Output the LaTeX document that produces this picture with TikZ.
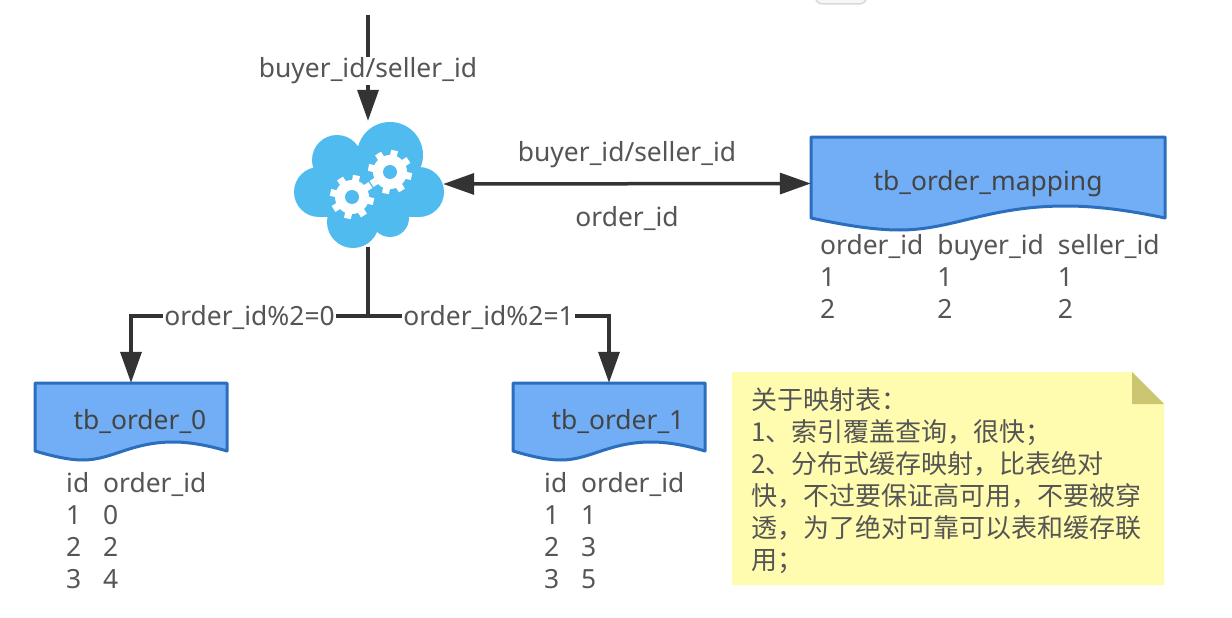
\documentclass[tikz,border=0pt]{standalone}
\usepackage{fontspec}
\setmainfont{Noto Sans}
\newfontfamily\cjk{Noto Sans CJK SC}
\usetikzlibrary{arrows.meta,positioning}
\definecolor{txtgray}{HTML}{555555}
\definecolor{linegray}{HTML}{333333}
\definecolor{cloudblue}{HTML}{50BBEE}
\definecolor{docfill}{HTML}{72AEF6}
\definecolor{docline}{HTML}{2A6EBD}
\definecolor{notefill}{HTML}{FFFCB0}
\definecolor{notefold}{HTML}{CCC673}
\tikzset{
	flowline/.style={draw=linegray,line width=3.5pt},
	flowarrow/.style={flowline,-{Triangle[length=31pt,width=21pt]}},
	flowboth/.style={flowline,{Triangle[length=31pt,width=21pt]}-{Triangle[length=31pt,width=21pt]}},
	flowlabel/.style={text=txtgray,font=\fontsize{26.4}{32}\selectfont,inner sep=1pt},
	cutlabel/.style={flowlabel,fill=white},
	doctext/.style={text=txtgray!80!black,font=\fontsize{26.4}{32}\selectfont,inner sep=0pt},
	tabletext/.style={flowlabel,anchor=north west,inner sep=0pt},
}
% name, left, top, width, side height, wave height, text offset
\newcommand{\docbox}[7]{
	\draw[draw=docline,fill=docfill,line width=3pt,line join=round]
		(#2,#3) -- ({#2+#4},#3) -- ({#2+#4},{#3+#5})
		.. controls ({#2+.92*#4},{#3+#5-.5*#6}) and ({#2+.82*#4},{#3+#5-#6}) .. ({#2+.72*#4},{#3+#5-#6})
		.. controls ({#2+.5*#4},{#3+#5-#6}) and ({#2+.4*#4},{#3+#5+#6}) .. ({#2+.25*#4},{#3+#5+#6})
		.. controls ({#2+.17*#4},{#3+#5+#6}) and ({#2+.08*#4},{#3+#5+.5*#6}) .. (#2,{#3+#5})
		-- cycle;
	\node[doctext,minimum width=#4 pt,minimum height=#5 pt+#6 pt] (#1) at ({#2+#4/2},{#3+(#5+#6)/2}) {\hspace*{#7pt}\detokenize{#1}};
}
\begin{document}
\begin{tikzpicture}[x=1pt,y=-1pt]
	\useasboundingbox (0,0) rectangle (1232,618);
	\fill[white] (0,0) rectangle (1232,618);
	\draw[draw=black!15,fill=black!3,line width=1.5pt,rounded corners=8pt] (815,-20) rectangle (867,4);

	% cloud with the two gears
	\foreach \cx/\cy/\cr in {337/160/25,390/155/33,319/192/25,419/192/25,353/222/26,390/218/19}
		\fill[cloudblue] (\cx,\cy) circle (\cr);
	\fill[cloudblue] (319,165) rectangle (419,217);
	\foreach \gx/\gy in {390/172,352/197}{
		\fill[white] (\gx,\gy) circle (17);
		\foreach \ang in {0,45,...,315}
			\draw[white,line width=7pt] (\gx,\gy) -- ++(\ang+12:22);
		\fill[cloudblue] (\gx,\gy) circle (7);
	}
	\node[inner sep=0pt,minimum width=150pt,minimum height=126pt] (cloud) at (368,184) {};

	% tables
	\docbox{tb_order_mapping}{811}{137}{354}{81}{12}{0}
	\docbox{tb_order_0}{35}{383}{192}{68}{9}{18}
	\docbox{tb_order_1}{513}{383}{192}{68}{9}{18}

	\node[tabletext] (mappingrows) at (820,232) {\begin{tabular}{@{}l@{\hskip 14pt}l@{\hskip 14pt}l@{}}
		order\_id & buyer\_id & seller\_id \\ 1 & 1 & 1 \\ 2 & 2 & 2 \end{tabular}};
	\node[tabletext] (rows0) at (66,470) {\begin{tabular}{@{}l@{\hskip 14pt}l@{}}
		id & order\_id \\ 1 & 0 \\ 2 & 2 \\ 3 & 4 \end{tabular}};
	\node[tabletext] (rows1) at (544,470) {\begin{tabular}{@{}l@{\hskip 14pt}l@{}}
		id & order\_id \\ 1 & 1 \\ 2 & 3 \\ 3 & 5 \end{tabular}};

	% connectors
	\coordinate (entry) at (368,15);
	\coordinate (fork) at (368,316);
	\path[flowarrow] (entry) -- node[cutlabel,yshift=-3pt] {buyer\_id/seller\_id} (cloud.north);
	\path[flowboth] (cloud.east) -- (tb_order_mapping.west);
	\path[flowline] (cloud.south) -- (fork);
	\path[flowarrow] (fork) -| node[cutlabel,pos=.25,yshift=-1pt] {order\_id\%2=0} (tb_order_0.north);
	\path[flowarrow] (fork) -| node[cutlabel,pos=.25,yshift=-1pt] {order\_id\%2=1} (tb_order_1.north);
	\node[flowlabel] (keylabel) at (627,155) {buyer\_id/seller\_id};
	\node[flowlabel] (idlabel) at (627,218) {order\_id};

	% note
	\fill[notefill] (732,372) -- (1132,372) -- (1164,404) -- (1164,585) -- (732,585) -- cycle;
	\fill[notefold] (1132,372) -- (1164,404) -- (1132,404) -- cycle;
	\node[text=txtgray,anchor=north west,inner sep=0pt,align=left,font=\cjk\fontsize{26}{32}\selectfont] (note) at (751,387)
		{关于映射表：\\1、索引覆盖查询，很快；\\2、分布式缓存映射，比表绝对\\快，不过要保证高可用，不要被穿\\透，为了绝对可靠可以表和缓存联\\用；};
\end{tikzpicture}
\end{document}
